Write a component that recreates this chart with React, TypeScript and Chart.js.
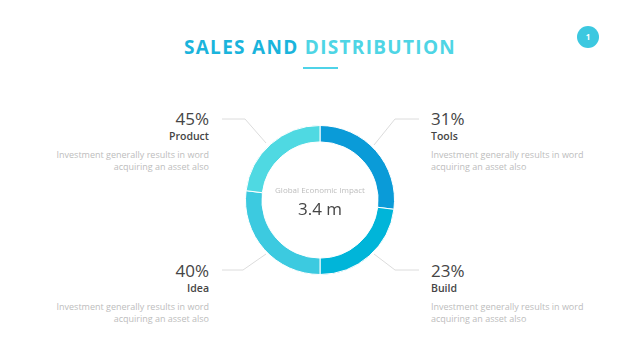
import React, { useEffect, useRef } from "react";
import { Chart, registerables } from "chart.js";

Chart.register(...registerables);

const categories = ["Tools", "Build", "Idea", "Product"];
const ringShares = [27, 23, 27, 23];
const percentLabels = ["31%", "23%", "40%", "45%"];
const description = ["Investment generally results in word", "acquiring an asset also"];
const centerCaption = "Global Economic Impact";
const centerValue = "3.4 m";
const sliceColors = ["#0a9bd8", "#00b5d9", "#3ccae0", "#4fd9e2"];

const FONT = "'Open Sans', 'Noto Sans', sans-serif";

type BlockProps = { idx: number; x: number; y: number; align: "left" | "right" };

function Block({ idx, x, y, align }: BlockProps) {
  const style: React.CSSProperties = {
    position: "absolute",
    top: y,
    textAlign: align,
    width: 200,
    fontFamily: FONT,
  };
  if (align === "right") style.left = x - 200;
  else style.left = x;
  return (
    <div style={style}>
      <div style={{ fontSize: 17, lineHeight: "22px", color: "#454545", height: 22 }}>{percentLabels[idx]}</div>
      <div style={{ fontSize: 10.5, lineHeight: "13px", color: "#454545", fontWeight: 600, height: 13, marginTop: 0 }}>
        {categories[idx]}
      </div>
      <div style={{ fontSize: 9, lineHeight: "12px", color: "#bdbdbd", marginTop: 6 }}>
        <div style={{ height: 12 }}>{description[0]}</div>
        <div style={{ height: 12 }}>{description[1]}</div>
      </div>
    </div>
  );
}

export default function App() {
  const canvasRef = useRef<HTMLCanvasElement | null>(null);

  useEffect(() => {
    document.body.style.margin = "0";
    const ctx = canvasRef.current;
    if (!ctx) return;
    const chart = new Chart(ctx, {
      type: "doughnut",
      data: {
        labels: categories,
        datasets: [
          {
            data: ringShares,
            backgroundColor: sliceColors,
            borderColor: "#ffffff",
            borderWidth: 1,
            hoverOffset: 0,
          },
        ],
      },
      options: {
        animation: false,
        responsive: false,
        maintainAspectRatio: false,
        cutout: "78%",
        rotation: 0,
        layout: { padding: 5 },
        plugins: { legend: { display: false }, tooltip: { enabled: false } },
        events: [],
      },
    });
    return () => chart.destroy();
  }, []);

  const lineColor = "#dcdcdc";

  return (
    <div style={{ position: "relative", width: 640, height: 360, background: "#fff", overflow: "hidden", fontFamily: FONT }}>
      <div
        style={{
          position: "absolute",
          top: 34,
          left: 0,
          width: 640,
          textAlign: "center",
          fontSize: 19,
          fontWeight: 700,
          letterSpacing: 1.3,
          lineHeight: "26px",
        }}
      >
        <span style={{ color: "#1ab4dc" }}>SALES AND </span>
        <span style={{ color: "#4ed5e5" }}>DISTRIBUTION</span>
      </div>
      <div style={{ position: "absolute", left: 303, top: 67, width: 35, height: 2, background: "#4fd3e8" }} />
      <div
        style={{
          position: "absolute",
          left: 577,
          top: 26,
          width: 22,
          height: 22,
          borderRadius: 11,
          background: "#3cc8e0",
          color: "#fff",
          fontSize: 8,
          lineHeight: "22px",
          textAlign: "center",
          fontWeight: 700,
        }}
      >
        1
      </div>
      <svg style={{ position: "absolute", left: 0, top: 0 }} width={640} height={360}>
        <polyline points="222,119 245,119 266,143" fill="none" stroke={lineColor} strokeWidth={1} />
        <polyline points="419,119 395,119 374,145" fill="none" stroke={lineColor} strokeWidth={1} />
        <polyline points="222,270 243,270 266,254" fill="none" stroke={lineColor} strokeWidth={1} />
        <polyline points="419,270 395,270 374,254" fill="none" stroke={lineColor} strokeWidth={1} />
      </svg>
      <canvas
        ref={canvasRef}
        width={160}
        height={160}
        style={{ position: "absolute", left: 240, top: 120, width: 160, height: 160 }}
      />
      <div
        style={{
          position: "absolute",
          left: 240,
          width: 160,
          top: 184,
          textAlign: "center",
          fontSize: 8,
          lineHeight: "12px",
          color: "#bdbdbd",
        }}
      >
        {centerCaption}
      </div>
      <div
        style={{
          position: "absolute",
          left: 240,
          width: 160,
          top: 197,
          textAlign: "center",
          fontSize: 17,
          lineHeight: "24px",
          color: "#454545",
        }}
      >
        {centerValue}
      </div>
      <Block idx={3} x={209} y={108} align="right" />
      <Block idx={0} x={431} y={108} align="left" />
      <Block idx={2} x={209} y={260} align="right" />
      <Block idx={1} x={431} y={260} align="left" />
    </div>
  );
}
